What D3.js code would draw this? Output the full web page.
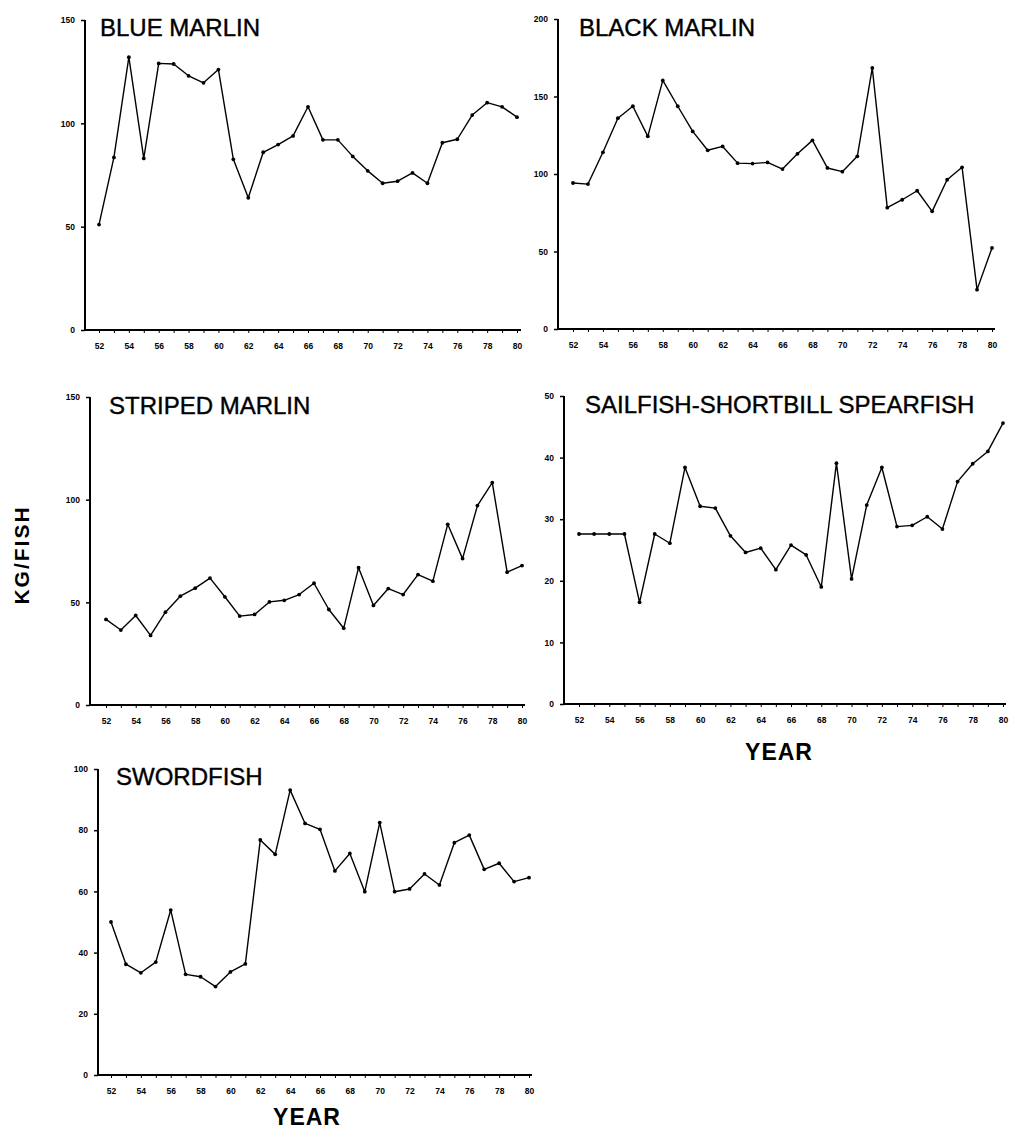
<!DOCTYPE html>
<html>
<head>
<meta charset="utf-8">
<script src="https://cdn.jsdelivr.net/npm/d3@7/dist/d3.min.js"></script>
<style>
  html, body { margin: 0; padding: 0; background: #fff; }
  svg { display: block; }
  text { font-family: "Liberation Sans", Arial, Helvetica, sans-serif; fill: #000; }
</style>
</head>
<body>
<svg id="chart" width="1015" height="1137"></svg>
<script>
// Mean weight per fish (kg) by year, 1952-1980
const years = d3.range(52, 81);
const xTickLabels = ["52","54","56","58","60","62","64","66","68","70","72","74","76","78","80"];

const blueMarlin = [51, 83.5, 132, 83, 129, 128.7, 123, 119.6, 126, 82.6, 64, 86, 89.7, 93.9, 108,
  92, 92, 84, 77, 71, 72, 76, 71, 90.6, 92.3, 104, 110, 108, 103];
const blackMarlin = [94.2, 93.5, 114, 136, 143.7, 124.3, 160.4, 143.7, 127.5, 115.3, 117.8, 107, 106.7, 107.5, 103.2,
  113, 121.7, 103.9, 101.5, 111.4, 168.4, 78.3, 83.4, 89.2, 75.9, 96.3, 104.3, 25.4, 52.3];
const stripedMarlin = [41.7, 36.5, 43.6, 33.9, 45.2, 53, 56.9, 61.8, 52.7, 43.3, 44.1, 50.2, 51, 53.8, 59.3,
  46.5, 37.4, 66.9, 48.5, 56.7, 53.8, 63.5, 60.3, 88, 71.3, 97.1, 108.3, 64.7, 67.9];
const sailfish = [27.6, 27.6, 27.6, 27.6, 16.5, 27.6, 26.1, 38.4, 32.1, 31.8, 27.3, 24.6, 25.3, 21.8, 25.8,
  24.2, 19, 39.1, 20.3, 32.3, 38.4, 28.8, 29, 30.4, 28.4, 36.1, 39, 41, 45.6];
const swordfish = [50, 36.2, 33.4, 36.9, 53.9, 32.9, 32.1, 28.9, 33.7, 36.3, 76.8, 72.1, 93.1, 82.2, 80.3,
  66.7, 72.4, 59.9, 82.5, 59.9, 60.8, 65.7, 62.1, 75.9, 78.4, 67.2, 69.2, 63.2, 64.5];

const yTicksBlue = [0, 50, 100, 150];
const yTicksBlack = [0, 50, 100, 150, 200];
const yTicksStriped = [0, 50, 100, 150];
const yTicksSail = [0, 10, 20, 30, 40, 50];
const yTicksSword = [0, 20, 40, 60, 80, 100];

const svg = d3.select("#chart");

// Panel frames: axis origin, extent and title placement
const panels = [
  { title: "BLUE MARLIN", values: blueMarlin, yMax: 150, yTicks: yTicksBlue,
    axisX: 85, top: 20, bottom: 330, x0: 99, x1: 517, axisEnd: 521, titleX: 100, titleY: 36 },
  { title: "BLACK MARLIN", values: blackMarlin, yMax: 200, yTicks: yTicksBlack,
    axisX: 558, top: 19, bottom: 329, x0: 573, x1: 992, axisEnd: 995, titleX: 579, titleY: 36 },
  { title: "STRIPED MARLIN", values: stripedMarlin, yMax: 150, yTicks: yTicksStriped,
    axisX: 90, top: 397, bottom: 705, x0: 106, x1: 522, axisEnd: 525, titleX: 109, titleY: 414 },
  { title: "SAILFISH-SHORTBILL SPEARFISH", values: sailfish, yMax: 50, yTicks: yTicksSail,
    axisX: 564, top: 396, bottom: 704, x0: 579, x1: 1003, axisEnd: 1006, titleX: 585, titleY: 413 },
  { title: "SWORDFISH", values: swordfish, yMax: 100, yTicks: yTicksSword,
    axisX: 98, top: 769, bottom: 1075, x0: 111, x1: 529, axisEnd: 532, titleX: 116, titleY: 785 }
];

panels.forEach(p => {
  const x = d3.scaleLinear().domain([52, 80]).range([p.x0, p.x1]);
  const y = d3.scaleLinear().domain([0, p.yMax]).range([p.bottom, p.top]);
  const g = svg.append("g");

  // y axis
  const yAxis = d3.axisLeft(y).tickValues(p.yTicks).tickSize(4).tickPadding(6)
    .tickFormat(d3.format("d"));
  const ya = g.append("g").attr("transform", `translate(${p.axisX},0)`).call(yAxis);
  ya.select(".domain").attr("stroke-width", 2).attr("d", `M0,${p.top}V${p.bottom}`);
  ya.selectAll(".tick line").attr("stroke-width", 1.5);
  ya.selectAll(".tick text").attr("font-size", 8.5).attr("font-weight", "bold")
    .style("font-family", "'Liberation Sans', Arial, sans-serif");

  // x axis: minor tick every year, labels every second year
  const xAxis = d3.axisBottom(x).tickValues(years).tickSize(3).tickPadding(10)
    .tickFormat(d => (d % 2 === 0 ? xTickLabels[(d - 52) / 2] : ""));
  const xa = g.append("g").attr("transform", `translate(0,${p.bottom})`).call(xAxis);
  xa.select(".domain").attr("stroke-width", 2.2).attr("d", `M${p.axisX},0H${p.axisEnd}`);
  xa.selectAll(".tick line").attr("stroke-width", 1);
  xa.selectAll(".tick text").attr("font-size", 8.5).attr("font-weight", "bold")
    .style("font-family", "'Liberation Sans', Arial, sans-serif");

  // series line and point markers
  const pts = years.map((yr, i) => [yr, p.values[i]]);
  g.append("path").datum(pts)
    .attr("fill", "none").attr("stroke", "#000").attr("stroke-width", 1.4)
    .attr("stroke-linejoin", "round")
    .attr("d", d3.line().x(d => x(d[0])).y(d => y(d[1])));
  g.selectAll("circle.pt").data(pts).join("circle").attr("class", "pt")
    .attr("cx", d => x(d[0])).attr("cy", d => y(d[1])).attr("r", 1.9).attr("fill", "#000");

  // panel title
  g.append("text").attr("x", p.titleX).attr("y", p.titleY)
    .attr("font-size", 24).attr("stroke", "#000").attr("stroke-width", 0.4)
    .text(p.title);
});

// shared axis titles
svg.append("text").attr("transform", "translate(29,555) rotate(-90)")
  .attr("text-anchor", "middle").attr("font-size", 21).attr("font-weight", "bold")
  .attr("letter-spacing", 2).text("KG/FISH");
svg.append("text").attr("x", 779).attr("y", 760).attr("text-anchor", "middle")
  .attr("font-size", 23).attr("font-weight", "bold").attr("letter-spacing", 1).text("YEAR");
svg.append("text").attr("x", 307).attr("y", 1125).attr("text-anchor", "middle")
  .attr("font-size", 23).attr("font-weight", "bold").attr("letter-spacing", 1).text("YEAR");
</script>
</body>
</html>
